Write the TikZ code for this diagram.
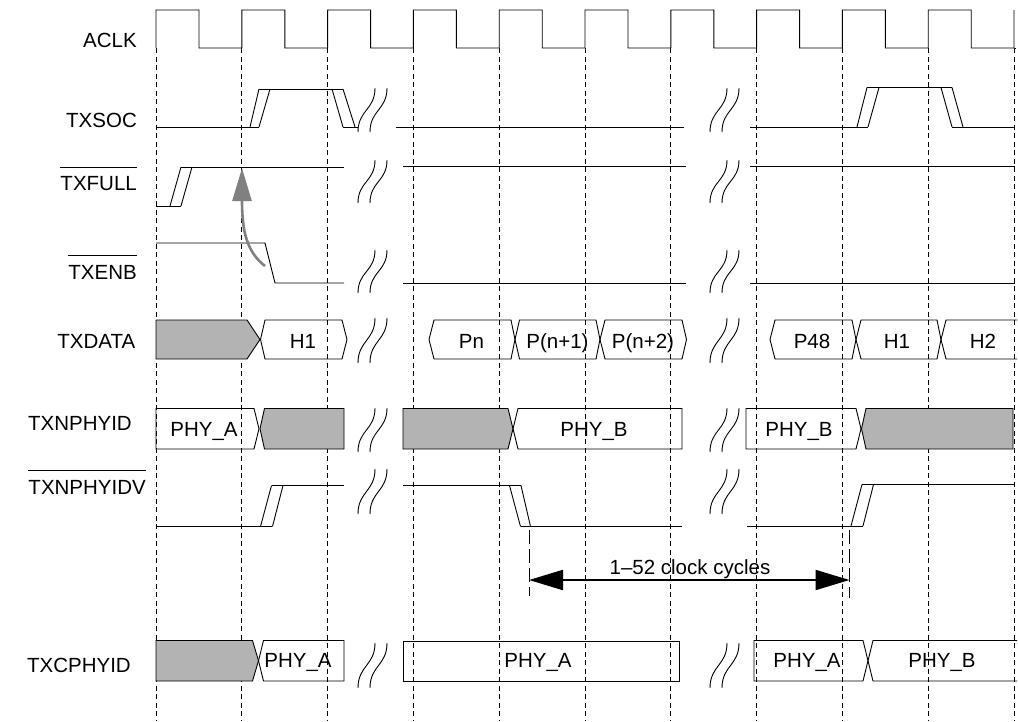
\documentclass[tikz,border=0pt]{standalone}
\usepackage{fontspec}
\setmainfont{Liberation Sans}
\usetikzlibrary{arrows.meta}
\definecolor{busgray}{RGB}{179,179,179}
\definecolor{arrgray}{RGB}{128,128,128}
\tikzset{
  sigline/.style={line width=0.9pt, line join=miter},
  clkdash/.style={line width=0.8pt, dash pattern=on 5pt off 3.5pt},
  busbox/.style={line width=0.9pt},
  busgr/.style={line width=0.9pt, fill=busgray},
  txt/.style={font=\fontsize{20.5}{24}\selectfont, inner sep=0pt, anchor=base},
  lbl/.style={font=\fontsize{20.5}{24}\selectfont, inner sep=0pt, anchor=base east},
  ovl/.style={line width=0.9pt},
  dimdash/.style={line width=0.9pt, dash pattern=on 14pt off 5pt},
}
\newcommand{\brkmark}[3]{%
  \draw[sigline] (#1,#2) .. controls (#1,{(#2+#3)/2}) and ({#1+17},{(#2+#3)/2}) .. ({#1+17},#3);
  \draw[sigline] ({#1+12},#2) .. controls ({#1+12},{(#2+#3)/2}) and ({#1+29},{(#2+#3)/2}) .. ({#1+29},#3);}
\begin{document}
\begin{tikzpicture}[x=1pt,y=-1pt]
\useasboundingbox (0,0) rectangle (1018,721);

% dashed clock reference lines
\foreach \k in {0,...,10}{
  \draw[clkdash] ({156+85.8*\k},48) -- ({156+85.8*\k},721);
}

% ACLK
\draw[sigline] (156,48)
  \foreach \k in {0,...,9}{ -- ({156+85.8*\k},10) -- ({199+85.8*\k},10) -- ({199+85.8*\k},48) -- ({241.8+85.8*\k},48) }
  -- (1014,10) -- (1014,10);
\draw[sigline] (1014,48) -- (1016,48);

% labels
\node[lbl] (lACLK) at (137,47.5) {ACLK};
\node[lbl] (lSOC) at (137,127) {TXSOC};
\node[lbl] (lFULL) at (137,190.5) {TXFULL};
\node[lbl] (lENB) at (137,279) {TXENB};
\node[lbl] (lDATA) at (135.5,348) {TXDATA};
\node[lbl] (lNPHYID) at (132,430.5) {TXNPHYID};
\node[lbl] (lNPHYIDV) at (146,494) {TXNPHYIDV};
\node[lbl] (lCPHYID) at (131,672.5) {TXCPHYID};
\draw[ovl] ([yshift=9pt]lFULL.north west) -- ([yshift=9pt]lFULL.north east);
\draw[ovl] ([yshift=9pt]lENB.north west) -- ([yshift=9pt]lENB.north east);
\draw[ovl] ([yshift=9pt]lNPHYIDV.north west) -- ([yshift=9pt]lNPHYIDV.north east);

% TXSOC
\draw[sigline] (156,127) -- (259,127);
\draw[sigline] (250,127) -- (259,89);
\draw[sigline] (259,127) -- (270,89);
\draw[sigline] (259,89) -- (343,89);
\draw[sigline] (332,89) -- (343,127);
\draw[sigline] (343,89) -- (355,127);
\draw[sigline] (343,127) -- (358,127);
\draw[sigline] (396,127) -- (684,127);
\draw[sigline] (750,127) -- (868,127);
\draw[sigline] (857,127) -- (867,87.5);
\draw[sigline] (868,127) -- (879,87.5);
\draw[sigline] (867,87.5) -- (952,87.5);
\draw[sigline] (941,87.5) -- (952,127);
\draw[sigline] (952,87.5) -- (963,127);
\draw[sigline] (952,127) -- (1014,127);
\brkmark{358}{132}{88}
\brkmark{710}{132}{88}

% TXFULL
\draw[sigline] (156,206) -- (181,206);
\draw[sigline] (170,206) -- (181,167);
\draw[sigline] (181,206) -- (192,167);
\draw[sigline] (181,167) -- (344,167);
\draw[sigline] (403,166) -- (686,166);
\draw[sigline] (750,166) -- (1015,166);
\brkmark{358}{203}{160}
\brkmark{710}{203}{160}

% TXENB
\draw[sigline] (156,243) -- (265,243) -- (275,283) -- (344,283);
\draw[sigline] (403,283) -- (686,283);
\draw[sigline] (750,283) -- (1015,283);
\brkmark{358}{293}{250}
\brkmark{710}{293}{250}

% causal arrow
\coordinate (arrS) at (265,266);
\coordinate (arrE) at (242,168);
\draw[arrgray, line width=2.6pt, -{Triangle[length=33pt,width=19pt]}]
  (arrS) .. controls (247,252) and (242,232) .. (arrE);

% TXDATA
\draw[busgr] (156,320) -- (247,320) -- (260,339.5) -- (247,359) -- (156,359) -- cycle;
\draw[busbox] (260.5,339.5) -- (265,320) -- (342,320) -- (347,339.5) -- (342,359) -- (265,359) -- cycle;
\draw[busbox] (429,339.5) -- (434,320) -- (511,320) -- (515,339.5) -- (511,359) -- (434,359) -- cycle;
\draw[busbox] (515,339.5) -- (519.5,320) -- (596,320) -- (600,339.5) -- (596,359) -- (519.5,359) -- cycle;
\draw[busbox] (600,339.5) -- (605,320) -- (682,320) -- (686.5,339.5) -- (682,359) -- (605,359) -- cycle;
\draw[busbox] (770,339.5) -- (775,320) -- (852,320) -- (856,339.5) -- (852,359) -- (775,359) -- cycle;
\draw[busbox] (856,339.5) -- (861,320) -- (937,320) -- (941,339.5) -- (937,359) -- (861,359) -- cycle;
\draw[busbox] (1017,320) -- (946,320) -- (941,339.5) -- (946,359) -- (1017,359);
\node[txt] (dH1a) at (303,348) {H1};
\node[txt] (dPn) at (471.5,348) {Pn};
\node[txt] (dPn1) at (557.5,348) {P(n+1)};
\node[txt] (dPn2) at (643,348) {P(n+2)};
\node[txt] (dP48) at (812,348) {P48};
\node[txt] (dH1b) at (897,348) {H1};
\node[txt] (dH2) at (983,348) {H2};
\brkmark{358}{363}{318}
\brkmark{710}{363}{318}

% TXNPHYID
\draw[busbox] (156,408.5) -- (254,408.5) -- (259,428.75) -- (254,449) -- (156,449) -- cycle;
\draw[busgr] (260,428.75) -- (264.5,408.5) -- (344,408.5) -- (344,449) -- (264.5,449) -- cycle;
\draw[busgr] (403,408.5) -- (508,408.5) -- (513,428.75) -- (508,449) -- (403,449) -- cycle;
\draw[busbox] (513,428.75) -- (518,408.5) -- (682,408.5) -- (682,449) -- (518,449) -- cycle;
\draw[busbox] (746,408.5) -- (856,408.5) -- (861,428.75) -- (856,449) -- (746,449) -- cycle;
\draw[busgr] (861.5,428.75) -- (866,408.5) -- (1013,408.5) -- (1013,449) -- (866,449) -- cycle;
\node[txt] (nA) at (204,436.5) {PHY\_A};
\node[txt] (nB1) at (594,436.5) {PHY\_B};
\node[txt] (nB2) at (799,436.5) {PHY\_B};
\brkmark{358}{452}{408}
\brkmark{710}{452}{408}

% TXNPHYIDV
\draw[sigline] (156,526.5) -- (272,526.5);
\draw[sigline] (260.5,526.5) -- (271.5,485.5);
\draw[sigline] (272.5,526.5) -- (283,485.5);
\draw[sigline] (271.5,485.5) -- (344,485.5);
\draw[sigline] (403,485.5) -- (521,485.5);
\draw[sigline] (509.5,485.5) -- (520.5,526.5);
\draw[sigline] (521,485.5) -- (530.5,526.5);
\draw[sigline] (520.5,526.5) -- (682,526.5);
\draw[sigline] (747,526) -- (863,526);
\draw[sigline] (851,526) -- (862,484.5);
\draw[sigline] (863,526) -- (873.5,484.5);
\draw[sigline] (862,484.5) -- (1015,484.5);
\brkmark{358}{514}{469}
\brkmark{710}{514}{469}

% 1-52 clock cycles dimension
\coordinate (dimL) at (529,580);
\coordinate (dimR) at (849.5,580);
\draw[dimdash] (529,530) -- (529,596);
\draw[dimdash] (849.5,530) -- (849.5,598);
\draw[line width=2pt, {Triangle[length=34pt,width=20pt]}-{Triangle[length=34pt,width=20pt]}] (dimL) -- (dimR);
\node[txt] (dimtxt) at (690,574.5) {1–52 clock cycles};

% TXCPHYID
\draw[busgr] (156,640.5) -- (252.5,640.5) -- (258.5,660.75) -- (252.5,681) -- (156,681) -- cycle;
\draw[busbox] (258.5,660.75) -- (263.5,640.5) -- (344,640.5) -- (344,681) -- (263.5,681) -- cycle;
\draw[busbox] (403,641) rectangle (679.5,681.5);
\draw[busbox] (754,640.5) -- (863,640.5) -- (868,660.75) -- (863,681) -- (754,681) -- cycle;
\draw[busbox] (1017,640.5) -- (873,640.5) -- (868,660.75) -- (873,681) -- (1017,681);
\node[txt] (cA1) at (298,667.5) {PHY\_A};
\node[txt] (cA2) at (538,667.5) {PHY\_A};
\node[txt] (cA3) at (807,667.5) {PHY\_A};
\node[txt] (cB) at (942,667.5) {PHY\_B};
\brkmark{358}{688}{643}
\brkmark{710}{688}{643}
\end{tikzpicture}
\end{document}
